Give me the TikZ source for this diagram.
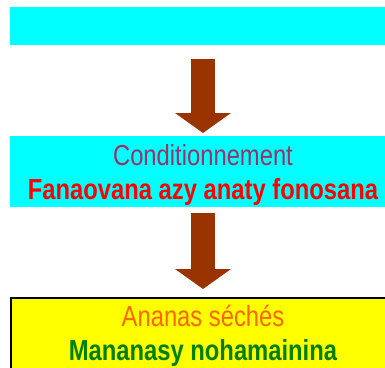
\documentclass[tikz,border=0pt]{standalone}
\usepackage{fontspec}
\usepackage{graphicx}
\setmainfont{Liberation Sans}
\usetikzlibrary{arrows.meta}
\definecolor{aqua}{HTML}{00FFFF}
\definecolor{yel}{HTML}{FFFF00}
\definecolor{plum}{HTML}{993366}
\definecolor{brownarrow}{HTML}{993300}
\definecolor{orng}{HTML}{FF6600}
\definecolor{grn}{HTML}{008000}
\definecolor{rd}{HTML}{FF0000}
\newcommand{\narrowtxt}[1]{\scalebox{0.82}[1]{#1}}
\tikzset{
  cyanbox/.style={fill=aqua, draw=none, minimum width=386pt, inner sep=0pt, outer sep=0pt},
  yellowbox/.style={fill=yel, draw=black, line width=2pt, minimum width=384pt, minimum height=82pt, inner sep=0pt, outer sep=0pt},
  lbl/.style={anchor=base, inner sep=0pt, font=\fontsize{29}{34}\selectfont},
  bigarrow/.style={draw=brownarrow, line width=24pt, -{Triangle[length=20pt,width=55pt]}, fill=brownarrow}
}
\begin{document}
\begin{tikzpicture}[x=1pt,y=-1pt]
\useasboundingbox (0,0) rectangle (385,367);
\clip (0,0) rectangle (385,367);
\node[cyanbox, minimum height=38pt] (b1) at (203,26) {};
\node[cyanbox, minimum height=71pt] (b2) at (203,171.5) {};
\node[yellowbox] (b3) at (203,339) {};
\node[lbl, text=plum] (t1) at (203,165) {\narrowtxt{Conditionnement}};
\node[lbl, text=rd] (t2) at (203,199) {\narrowtxt{\bfseries Fanaovana azy anaty fonosana}};
\node[lbl, text=orng] (t3) at (203,326) {\narrowtxt{Ananas séchés}};
\node[lbl, text=grn] (t4) at (203,360) {\narrowtxt{\bfseries Mananasy nohamainina}};
\draw[bigarrow] ([yshift=-14pt]b1.south -| t1.base) -- ([yshift=3pt]b2.north -| t1.base);
\draw[bigarrow] ([yshift=-6pt]b2.south -| t1.base) -- ([yshift=9pt]b3.north -| t1.base);
\end{tikzpicture}
\end{document}
